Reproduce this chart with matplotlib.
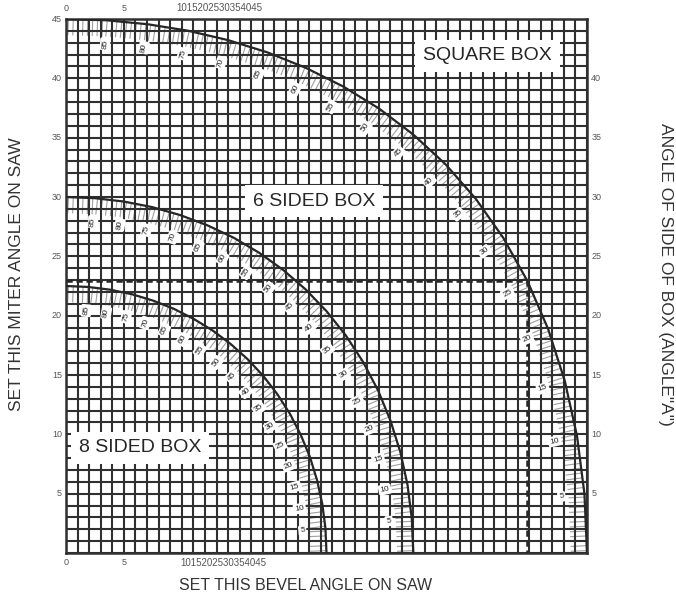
import numpy as np
import matplotlib.pyplot as plt
import matplotlib.patheffects as pe
import matplotlib.transforms as mtransforms

plt.rcParams['font.family'] = ['Liberation Sans', 'DejaVu Sans']

# angle of side of box (angle "A"), read every 5 degrees along each curve
side_angle = [0, 5, 10, 15, 20, 25, 30, 35, 40, 45, 50, 55, 60, 65, 70, 75, 80, 85, 90]

# square box: bevel (x) and miter (y)
square_bevel = [45.0, 44.78, 44.14, 43.08, 41.64, 39.86, 37.76, 35.40, 32.80, 30.0,
                27.03, 23.93, 20.70, 17.39, 14.00, 10.55, 7.05, 3.53, 0.0]
square_miter = [0.0, 4.98, 9.85, 14.51, 18.88, 22.91, 26.57, 29.84, 32.74, 35.26,
                37.46, 39.32, 40.89, 42.19, 43.22, 44.01, 44.56, 44.89, 45.0]

# 6 sided box
six_bevel = [30.0, 29.87, 29.50, 28.88, 28.02, 26.95, 25.66, 24.18, 22.52, 20.70,
             18.75, 16.67, 14.48, 12.20, 9.85, 7.44, 4.98, 2.50, 0.0]
six_miter = [0.0, 2.88, 5.73, 8.50, 11.17, 13.71, 16.10, 18.32, 20.36, 22.21,
             23.86, 25.31, 26.57, 27.62, 28.48, 29.15, 29.62, 29.90, 30.0]

# 8 sided box
eight_bevel = [22.5, 22.41, 22.14, 21.69, 21.08, 20.29, 19.36, 18.27, 17.05, 15.70,
               14.24, 12.68, 11.03, 9.31, 7.52, 5.68, 3.81, 1.91, 0.0]
eight_miter = [0.0, 2.07, 4.11, 6.12, 8.06, 9.93, 11.70, 13.36, 14.91, 16.32,
               17.60, 18.74, 19.73, 20.58, 21.27, 21.81, 22.19, 22.42, 22.5]

# the worked example (dashed lines) on the square box curve
example_side = 25

# tick labels
left_ticks = [5, 10, 15, 20, 25, 30, 35, 40, 45]
right_ticks = [5, 10, 15, 20, 25, 30, 35, 40]
x_ticks = [0, 5]
x_crammed = '1015202530354045'

# box names
box_names = ['SQUARE BOX', '6 SIDED BOX', '8 SIDED BOX']
box_name_pos = [(36.4, 41.9), (21.4, 29.65), (6.4, 8.85)]

ink = '#262626'

fig = plt.figure(figsize=(6.76, 5.95), dpi=100)
ax = fig.add_axes([66 / 676, 1 - 553 / 595, (587 - 66) / 676, (553 - 19) / 595])
ax.set_xlim(0, 45)
ax.set_ylim(0, 45)

# 1 degree grid
ax.set_xticks(np.arange(0, 46))
ax.set_yticks(np.arange(0, 46))
ax.tick_params(length=0, labelbottom=False, labelleft=False)
ax.set_axisbelow(False)
ax.grid(True, color='#303030', linewidth=1.5)
for s in ax.spines.values():
    s.set_linewidth(1.8)
    s.set_color('#303030')

curves = [(square_bevel, square_miter), (six_bevel, six_miter), (eight_bevel, eight_miter)]

for bev, mit in curves:
    # gray hatching on the inner side
    ax.plot(bev, mit, color='#a0a0a0', lw=0.8, zorder=1,
            path_effects=[pe.TickedStroke(angle=90, spacing=3.5, length=3.2,
                                          linewidth=0.8, foreground='#a0a0a0')])
    ax.plot(bev, mit, color=ink, lw=1.6, zorder=3, solid_capstyle='butt')

    # angle "A" labels, placed just inside the curve, reading outward
    for a, b, m in zip(side_angle, bev, mit):
        if a == 0 or a == 90:
            continue
        th = np.arctan2(m, b)
        ax.text(b - 2.0 * np.cos(th), m - 2.0 * np.sin(th), str(a),
                rotation=np.degrees(th), rotation_mode='anchor',
                ha='center', va='center', fontsize=6, color=ink, zorder=5,
                bbox=dict(boxstyle='round,pad=0.2', fc='white', ec='none'))

# dashed example lines
i = side_angle.index(example_side)
eb, em = square_bevel[i], square_miter[i]
ax.plot([0, eb, eb], [em, em, 0], color=ink, lw=1.8, ls=(0, (2.5, 1.5)), zorder=3)

# box names on white
for name, (x, y) in zip(box_names, box_name_pos):
    ax.text(x, y, name, fontsize=14, color=ink, ha='center', va='center', zorder=4,
            bbox=dict(boxstyle='square,pad=0.4', fc='white', ec='none'))

# tick labels
tick_kw = dict(fontsize=6.5, color='#555555')
ytrans_l = mtransforms.blended_transform_factory(ax.transAxes, ax.transData)
for v in left_ticks:
    ax.text(-0.008, v, str(v), transform=ytrans_l, ha='right', va='center', **tick_kw)
for v in right_ticks:
    ax.text(1.008, v, str(v), transform=ytrans_l, ha='left', va='center', **tick_kw)
xtrans = mtransforms.blended_transform_factory(ax.transData, ax.transAxes)
for v in x_ticks:
    ax.text(v, 1.012, str(v), transform=xtrans, ha='center', va='bottom', **tick_kw)
    ax.text(v, -0.01, str(v), transform=xtrans, ha='center', va='top', **tick_kw)
ax.text(9.5, 1.012, x_crammed, transform=xtrans, ha='left', va='bottom', fontsize=7, color='#555555')
ax.text(9.9, -0.01, x_crammed, transform=xtrans, ha='left', va='top', fontsize=7, color='#555555')

# axis titles
fig.text(17 / 676, 1 - 274 / 595, 'SET THIS MITER ANGLE ON SAW', rotation=90,
         ha='center', va='center', fontsize=12.5, color='#333333')
fig.text(665 / 676, 1 - 274 / 595, 'ANGLE OF SIDE OF BOX (ANGLE"A")', rotation=-90,
         ha='center', va='center', fontsize=12.5, color='#333333')
fig.text(306 / 676, 5 / 595, 'SET THIS BEVEL ANGLE ON SAW',
         ha='center', va='baseline', fontsize=11.5, color='#333333')

fig.savefig('out.png', dpi=100)
